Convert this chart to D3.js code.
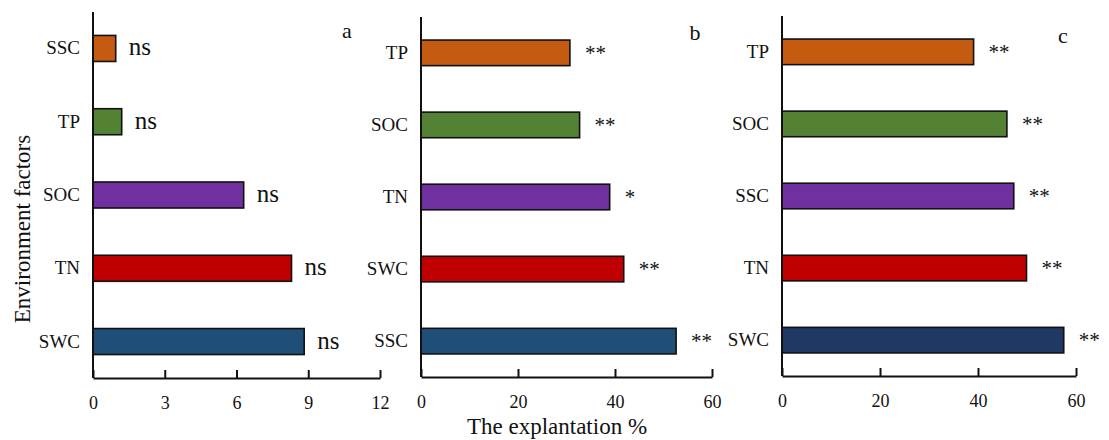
<!DOCTYPE html>
<html>
<head>
<meta charset="utf-8">
<script src="https://cdn.jsdelivr.net/npm/d3@7"></script>
<style>
  body { margin: 0; background: #fff; }
  svg text { font-family: "Liberation Serif", "Times New Roman", Times, "DejaVu Serif", serif; fill: #111; }
</style>
</head>
<body>
<div id="chart"></div>
<script>
// --- data, top to bottom in each panel ---
const cats_a = ["SSC", "TP", "SOC", "TN", "SWC"];
const vals_a = [0.95, 1.2, 6.3, 8.3, 8.83];
const sig_a = ["ns", "ns", "ns", "ns", "ns"];
const ticks_a = [0, 3, 6, 9, 12];

const cats_b = ["TP", "SOC", "TN", "SWC", "SSC"];
const vals_b = [30.7, 32.7, 38.9, 41.8, 52.6];
const sig_b = ["**", "**", "*", "**", "**"];
const ticks_b = [0, 20, 40, 60];

const cats_c = ["TP", "SOC", "SSC", "TN", "SWC"];
const vals_c = [39.1, 45.9, 47.3, 49.9, 57.5];
const sig_c = ["**", "**", "**", "**", "**"];
const ticks_c = [0, 20, 40, 60];

const colors_ab = ["#C55A11", "#548235", "#7030A0", "#C00000", "#1F4E79"];
const colors_c = ["#C55A11", "#548235", "#7030A0", "#C00000", "#203864"];

const width = 1109, height = 440;
const serif = "'Liberation Serif', 'Times New Roman', Times, 'DejaVu Serif', serif";

const svg = d3.select("#chart").append("svg")
  .attr("width", width)
  .attr("height", height);

// one panel = one little bar chart
function drawPanel(opt) {
  let g = svg.append("g");

  let x = d3.scaleLinear()
    .domain([0, opt.ticks[opt.ticks.length - 1]])
    .range([opt.x0, opt.x1]);

  let y = d3.scaleBand()
    .domain(opt.cats)
    .range([opt.yTop, opt.yBottom])
    .paddingInner(0.645)
    .paddingOuter(0.32);

  let rows = opt.cats.map((c, i) => ({cat: c, val: opt.vals[i], sig: opt.sig[i], col: opt.colors[i]}));

  g.selectAll(".bar").data(rows).enter()
    .append("rect")
    .attr("class", "bar")
    .attr("x", x(0))
    .attr("y", d => y(d.cat))
    .attr("width", d => x(d.val) - x(0))
    .attr("height", y.bandwidth())
    .attr("fill", d => d.col)
    .attr("stroke", "#111")
    .attr("stroke-width", 1.6);

  // significance marks
  g.selectAll(".sig").data(rows).enter()
    .append("text")
    .attr("class", "sig")
    .attr("x", d => x(d.val) + (d.sig == "ns" ? 13 : 15))
    .attr("y", d => y(d.cat) + y.bandwidth() / 2 + 7)
    .style("font-family", serif)
    .style("font-size", d => d.sig == "ns" ? "25px" : "21px")
    .text(d => d.sig);

  // category labels
  g.selectAll(".cat").data(rows).enter()
    .append("text")
    .attr("class", "cat")
    .attr("x", x(0) - 13)
    .attr("y", d => y(d.cat) + y.bandwidth() / 2 + 6)
    .attr("text-anchor", "end")
    .style("font-family", serif)
    .style("font-size", "19px")
    .text(d => d.cat);

  // y axis line (no ticks)
  g.append("line")
    .attr("x1", x(0)).attr("x2", x(0))
    .attr("y1", opt.yTop).attr("y2", opt.yBottom)
    .attr("stroke", "#111").attr("stroke-width", 2);

  // x axis, ticks pointing inward
  let xa = g.append("g")
    .attr("transform", "translate(0," + opt.yBottom + ")")
    .call(d3.axisBottom(x).tickValues(opt.ticks).tickSizeInner(-8).tickSizeOuter(0).tickPadding(18));
  xa.attr("font-family", null);
  xa.select(".domain").attr("stroke", "#111").attr("stroke-width", 2);
  xa.selectAll(".tick line").attr("stroke", "#111").attr("stroke-width", 2);
  xa.selectAll(".tick text")
    .style("font-family", serif)
    .style("font-size", "18px")
    .attr("fill", "#111");

  // panel letter
  g.append("text")
    .attr("x", opt.letterX)
    .attr("y", opt.letterY)
    .attr("text-anchor", "middle")
    .style("font-family", serif)
    .style("font-size", "22px")
    .text(opt.letter);
}

drawPanel({cats: cats_a, vals: vals_a, sig: sig_a, ticks: ticks_a, colors: colors_ab,
  x0: 93, x1: 380, yTop: 12, yBottom: 378, letter: "a", letterX: 347, letterY: 38});
drawPanel({cats: cats_b, vals: vals_b, sig: sig_b, ticks: ticks_b, colors: colors_ab,
  x0: 421, x1: 712, yTop: 17, yBottom: 377, letter: "b", letterX: 695, letterY: 40});
drawPanel({cats: cats_c, vals: vals_c, sig: sig_c, ticks: ticks_c, colors: colors_c,
  x0: 782, x1: 1076, yTop: 16, yBottom: 376, letter: "c", letterX: 1063, letterY: 43});

// axis titles
svg.append("text")
  .attr("transform", "translate(30,229) rotate(-90)")
  .attr("text-anchor", "middle")
  .style("font-family", serif)
  .style("font-size", "23px")
  .text("Environment factors");

svg.append("text")
  .attr("x", 557)
  .attr("y", 434)
  .attr("text-anchor", "middle")
  .style("font-family", serif)
  .style("font-size", "23px")
  .text("The explantation %");
</script>
</body>
</html>
